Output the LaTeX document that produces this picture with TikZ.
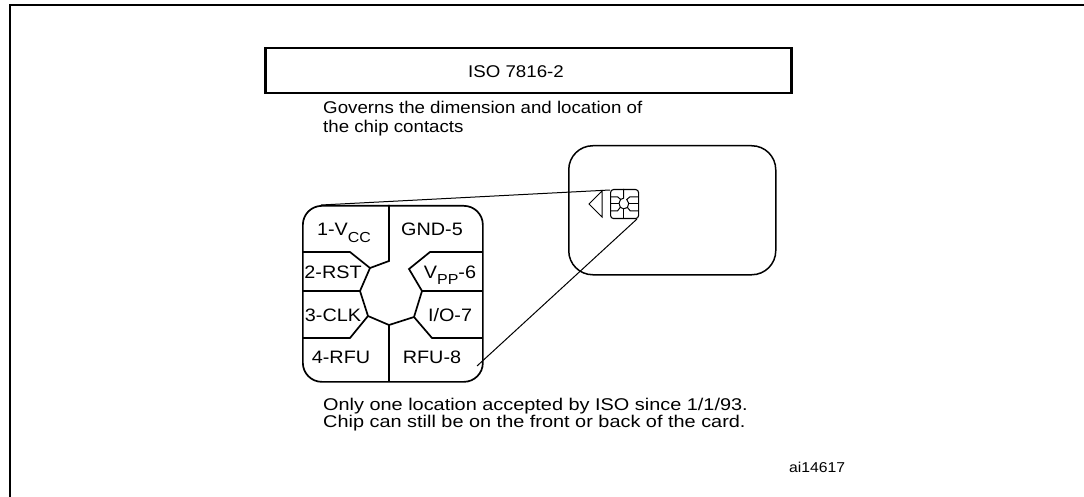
\documentclass[tikz,border=0pt]{standalone}
\usepackage{fontspec}
\setmainfont{Liberation Sans}[FakeStretch=1.1]
\newfontfamily\widefont{Liberation Sans}[FakeStretch=1.17]
\newcommand{\fsz}[1]{\fontsize{#1}{#1}\selectfont}
\newcommand{\padpattern}{%
  \draw (0,47) -- (48,47) -- (68,63) -- (58,86) -- (66,111) -- (87,120) -- (112,112) -- (120,86) -- (107,64) -- (128,47) -- (180,47);
  \draw (87,0) -- (87,56) -- (68,63);
  \draw (0,86) -- (58,86);
  \draw (66,111) -- (48,133) -- (0,133);
  \draw (87,120) -- (87,176);
  \draw (112,112) -- (130,133) -- (180,133);
  \draw (120,86) -- (180,86);
}
\begin{document}
\begin{tikzpicture}[x=1pt,y=-1pt,line join=miter,
  lbl/.style={anchor=base,inner sep=0pt,font=\fsz{18}},
  txt/.style={anchor=base west,inner sep=0pt,font=\fsz{17}},
  conn/.style={line width=1pt}]
\useasboundingbox (0,0) rectangle (1084,497);
% outer frame
\draw[line width=2pt] (1084,5) -- (10,5) -- (10,497);
% ISO box
\node[draw,line width=2.5pt,minimum width=526pt,minimum height=45pt,anchor=north west,inner sep=0pt] (iso) at (264,47) {};
\node[anchor=base,inner sep=0pt,font=\fsz{17}] (isot) at (516,78) {ISO 7816-2};
\node[txt] (gov1) at (323,114) {Governs the dimension and location of};
\node[txt] (gov2) at (323,133) {the chip contacts};
% card
\node[draw,line width=1.5pt,rounded corners=24pt,minimum width=207pt,minimum height=129pt,anchor=north west,inner sep=0pt] (card) at (568,145) {};
% mini chip
\node[draw,line width=1.1pt,rounded corners=3pt,minimum width=28pt,minimum height=29pt,anchor=north west,inner sep=0pt] (chip) at (610,189) {};
\begin{scope}[shift={(610,189)},xscale=0.156,yscale=0.165,line width=1pt]
  \padpattern
\end{scope}
\draw[line width=1pt] (602,191) -- (589,204) -- (602,217) -- cycle;
% pad
\node[draw,line width=1.7pt,rounded corners=19pt,minimum width=180pt,minimum height=176pt,anchor=north west,inner sep=0pt] (pad) at (302,205) {};
\begin{scope}[shift={(302,205)},line width=1.7pt]
  \padpattern
\end{scope}
% labels
\node[lbl] (c1) at (344,236) {1-V\raisebox{-6pt}{\fsz{14.5}CC}};
\node[lbl] (c5) at (432,236) {GND-5};
\node[lbl] (c2) at (333,278) {2-RST};
\node[lbl] (c6) at (450,278) {V\raisebox{-6pt}{\fsz{14.5}PP}-6};
\node[lbl] (c3) at (333,321) {3-CLK};
\node[lbl] (c7) at (450,321) {I/O-7};
\node[lbl] (c4) at (341,363) {4-RFU};
\node[lbl] (c8) at (432,363) {RFU-8};
% connectors
\coordinate (padtl) at (321,205);
\coordinate (padbr) at (477,366);
\coordinate (chiptl) at (610,190);
\coordinate (chipbr) at (637,219);
\draw[conn] (padtl) -- (chiptl);
\draw[conn] (padbr) -- (chipbr);
% bottom text
\node[txt,font=\widefont\fsz{17}] (b1) at (323,410) {Only one location accepted by ISO since 1/1/93.};
\node[txt,font=\widefont\fsz{17}] (b2) at (323,427) {Chip can still be on the front or back of the card.};
\node[anchor=base west,inner sep=0pt,font=\fsz{14.3}] (ai) at (789,472) {ai14617};
\end{tikzpicture}
\end{document}
